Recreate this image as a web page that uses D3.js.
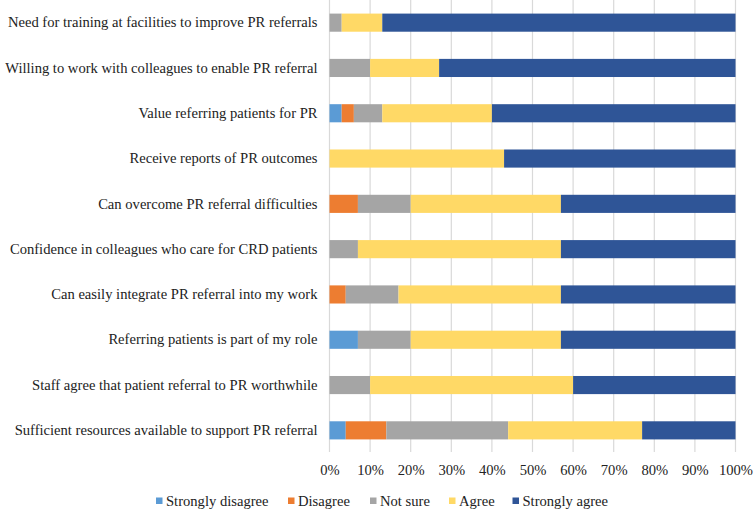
<!DOCTYPE html>
<html><head><meta charset="utf-8">
<script src="https://cdn.jsdelivr.net/npm/d3@7"></script>
<style>body{margin:0;background:#fff} svg text{font-family:"Liberation Serif","Times New Roman",serif;}</style>
</head><body>
<svg id="chart" width="753" height="511"></svg>
<script>
const categories = [
  "Need for training at facilities to improve PR referrals",
  "Willing to work with colleagues to enable PR referral",
  "Value referring patients for PR",
  "Receive reports of PR outcomes",
  "Can overcome PR referral difficulties",
  "Confidence in colleagues who care for CRD patients",
  "Can easily integrate PR referral into my work",
  "Referring patients is part of my role",
  "Staff agree that patient referral to PR worthwhile",
  "Sufficient resources available to support PR referral"
];
const seriesNames = ["Strongly disagree","Disagree","Not sure","Agree","Strongly agree"];
const stronglyDisagree = [0, 0, 3, 0, 0, 0, 0, 7, 0, 4];
const disagree         = [0, 0, 3, 0, 7, 0, 4, 0, 0, 10];
const notSure          = [3, 10, 7, 0, 13, 7, 13, 13, 10, 30];
const agree            = [10, 17, 27, 43, 37, 50, 40, 37, 50, 33];
const stronglyAgree    = [87, 73, 60, 57, 43, 43, 43, 43, 40, 23];
const tickValues = [0,10,20,30,40,50,60,70,80,90,100];
const colors = ["#5B9BD5","#ED7D31","#A5A5A5","#FFD966","#2F5597"];

const rows = categories.map((c,i)=>({cat:c, "Strongly disagree":stronglyDisagree[i], "Disagree":disagree[i], "Not sure":notSure[i], "Agree":agree[i], "Strongly agree":stronglyAgree[i]}));
const stack = d3.stack().keys(seriesNames)(rows);

const svg = d3.select("#chart");
const font = '"Liberation Serif","Times New Roman",serif';
const fs = "14.6px";
const x = d3.scaleLinear().domain([0,100]).range([329.5,735.5]);
const y = d3.scaleBand().domain(categories).range([0,453]).paddingInner(0.6).paddingOuter(0.3);

svg.append("g").selectAll("line").data(tickValues).join("line")
  .attr("x1",d=>x(d)).attr("x2",d=>x(d)).attr("y1",0).attr("y2",452)
  .attr("stroke","#d9d9d9").attr("stroke-width",1.2);

svg.append("g").selectAll("g").data(stack).join("g")
  .attr("fill",(d,i)=>colors[i])
  .selectAll("rect").data(d=>d).join("rect")
  .attr("x",d=>x(d[0])).attr("width",d=>x(d[1])-x(d[0]))
  .attr("y",d=>y(d.data.cat)).attr("height",y.bandwidth());

const xa = svg.append("g").attr("transform","translate(0,449)")
  .call(d3.axisBottom(x).tickValues(tickValues).tickFormat(d=>d+"%").tickSize(0).tickPadding(15.5));
xa.select(".domain").remove();
xa.attr("font-family",null).attr("font-size",null);
xa.selectAll("text").style("font-family",font).style("font-size",fs).attr("fill","#222");

const ya = svg.append("g").attr("transform","translate(329.5,0)")
  .call(d3.axisLeft(y).tickSize(0).tickPadding(12));
ya.select(".domain").remove();
ya.attr("font-family",null).attr("font-size",null);
ya.selectAll("text").style("font-family",font).style("font-size",fs).attr("fill","#222");

const legendX = [156, 288, 370, 449, 512.5];
const lg = svg.append("g").selectAll("g").data(seriesNames).join("g")
  .attr("transform",(d,i)=>`translate(${legendX[i]},501)`);
lg.append("rect").attr("x",0).attr("y",-3.5).attr("width",6.5).attr("height",6.5).attr("fill",(d,i)=>colors[i]);
lg.append("text").attr("x",10).attr("y",0).attr("dy","0.35em").text(d=>d)
  .style("font-family",font).style("font-size",fs).attr("fill","#222");
</script>
</body></html>
